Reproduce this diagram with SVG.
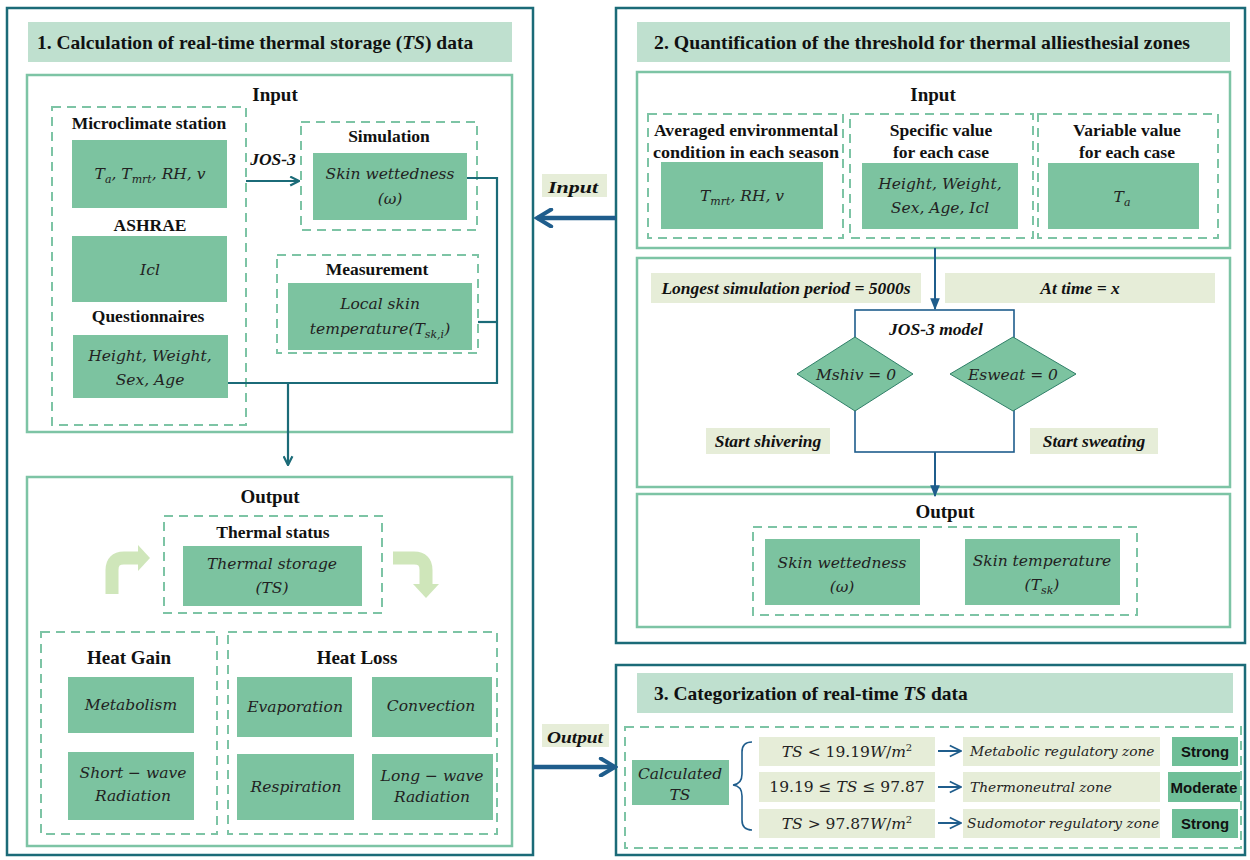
<svg xmlns="http://www.w3.org/2000/svg" width="1250" height="860" viewBox="0 0 1250 860">
<defs>
<style>
.panel{fill:#fff;stroke:#1b6b78;stroke-width:2.5}
.banner{fill:#bfe0cf}
.sec{fill:none;stroke:#7dc4a5;stroke-width:2.5}
.dash{fill:none;stroke:#7dc4a5;stroke-width:2;stroke-dasharray:9 6}
.node{fill:#7cc3a0}
.lbl{fill:#e6edd8}
.badge{fill:#6fbf98}
.title{font-family:"Liberation Serif",serif;font-weight:bold;font-size:19.5px;fill:#111}
.head{font-family:"Liberation Serif",serif;font-weight:bold;font-size:19px;fill:#111;text-anchor:middle}
.sub{font-family:"Liberation Serif",serif;font-weight:bold;font-size:17.5px;fill:#111;text-anchor:middle}
.bi{font-family:"Liberation Serif",serif;font-weight:bold;font-style:italic;font-size:17.5px;fill:#111;text-anchor:middle}
.it{font-family:"DejaVu Serif",serif;font-style:italic;font-size:15.5px;fill:#222;text-anchor:middle}
.itl{font-family:"DejaVu Serif",serif;font-style:italic;font-size:13.8px;fill:#222}
.math{font-family:"DejaVu Serif",serif;font-size:15.5px;fill:#222;text-anchor:middle}
.bd{font-family:"Liberation Sans",sans-serif;font-weight:bold;font-size:15px;fill:#111;text-anchor:middle}
.c1{fill:none;stroke:#1b6b78;stroke-width:2.2}
.c2{fill:none;stroke:#1f5d8c;stroke-width:2}
.big{fill:none;stroke:#1f5d8c;stroke-width:4.5}
.curv{fill:none;stroke:#cfe6ba;stroke-width:13}
</style>
<marker id="a1" viewBox="0 0 10 10" refX="9" refY="5" markerWidth="5" markerHeight="5" orient="auto"><path d="M1,1 L9,5 L1,9" fill="none" stroke="#1b6b78" stroke-width="2"/></marker>
<marker id="a2" viewBox="0 0 10 10" refX="9" refY="5" markerWidth="6" markerHeight="6" orient="auto"><path d="M0,1 L10,5 L0,9 Z" fill="#1f5d8c"/></marker>
<marker id="a3" viewBox="0 0 10 10" refX="9" refY="5" markerWidth="7" markerHeight="7" orient="auto"><path d="M1,1 L9,5 L1,9" fill="none" stroke="#1f5d8c" stroke-width="1.2"/></marker>
<marker id="a4" viewBox="0 0 10 10" refX="8.5" refY="5" markerWidth="4.5" markerHeight="4.5" orient="auto"><path d="M1.5,0.8 L8.5,5 L1.5,9.2" fill="none" stroke="#1f5d8c" stroke-width="2" stroke-linecap="round"/></marker>
</defs>
<rect width="1250" height="860" fill="#fff"/>

<!-- Panel 1 -->
<g id="panel1">
<rect class="panel" x="7" y="8" width="526" height="847"/>
<rect class="banner" x="28" y="22" width="484" height="40"/>
<text class="title" x="37" y="49">1. Calculation of real-time thermal storage (<tspan font-style="italic">TS</tspan>) data</text>
<rect class="sec" x="27" y="75" width="485" height="357"/>
<text class="head" x="275" y="101">Input</text>
<rect class="sec" x="27" y="477" width="485" height="369"/>
<text class="head" x="270" y="503">Output</text>
</g>

<g id="microclimate">
<rect class="dash" x="52" y="107" width="194" height="318"/>
<text class="sub" x="149" y="129">Microclimate station</text>
<rect class="node" x="72" y="140" width="155" height="68"/>
<text class="math" font-style="italic" x="150" y="179">T<tspan font-size="11" dy="4">a</tspan><tspan dy="-4">, T</tspan><tspan font-size="11" dy="4">mrt</tspan><tspan dy="-4">, RH, v</tspan></text>
<text class="sub" x="150" y="231">ASHRAE</text>
<rect class="node" x="72" y="236" width="155" height="66"/>
<text class="it" x="150" y="275">Icl</text>
<text class="sub" x="148" y="322">Questionnaires</text>
<rect class="node" x="73" y="335" width="155" height="63"/>
<text class="it" x="150" y="361">Height, Weight,</text>
<text class="it" x="150" y="385">Sex, Age</text>
</g>

<g id="simulation">
<rect class="dash" x="301" y="122" width="176" height="108"/>
<text class="sub" x="389" y="142">Simulation</text>
<rect class="node" x="313" y="153" width="154" height="67"/>
<text class="it" x="390" y="179">Skin wettedness</text>
<text class="it" x="390" y="204">(ω)</text>
</g>

<g id="measurement">
<rect class="dash" x="277" y="255" width="201" height="98"/>
<text class="sub" x="377" y="275">Measurement</text>
<rect class="node" x="288" y="283" width="184" height="67"/>
<text class="it" x="380" y="309">Local skin</text>
<text class="it" x="380" y="334">temperature(T<tspan font-size="11" dy="4">sk,i</tspan><tspan dy="-4">)</tspan></text>
</g>

<g id="thermal-status">
<rect class="dash" x="164" y="516" width="218" height="97"/>
<text class="sub" x="273" y="538" font-size="20.5">Thermal status</text>
<rect class="node" x="183" y="546" width="179" height="60"/>
<text class="it" x="272" y="569">Thermal storage</text>
<text class="it" x="272" y="593">(TS)</text>
</g>

<g id="heat-gain">
<rect class="dash" x="41" y="632" width="176" height="202"/>
<text class="head" x="129" y="664" font-size="18">Heat Gain</text>
<rect class="node" x="68" y="677" width="126" height="56"/>
<text class="it" x="131" y="710">Metabolism</text>
<rect class="node" x="68" y="752" width="126" height="68"/>
<text class="it" x="133" y="778">Short − wave</text>
<text class="it" x="133" y="801">Radiation</text>
</g>

<g id="heat-loss">
<rect class="dash" x="228" y="632" width="269" height="202"/>
<text class="head" x="357" y="664" font-size="18">Heat Loss</text>
<rect class="node" x="237" y="677" width="115" height="60"/>
<text class="it" x="295" y="712">Evaporation</text>
<rect class="node" x="372" y="677" width="120" height="60"/>
<text class="it" x="431" y="711">Convection</text>
<rect class="node" x="237" y="754" width="117" height="66"/>
<text class="it" x="296" y="792">Respiration</text>
<rect class="node" x="372" y="754" width="121" height="66"/>
<text class="it" x="432" y="781">Long − wave</text>
<text class="it" x="432" y="802">Radiation</text>
</g>

<!-- Panel 2 -->
<g id="panel2">
<rect class="panel" x="616" y="8" width="629" height="635"/>
<rect class="banner" x="637" y="22" width="593" height="40"/>
<text class="title" x="654" y="49" textLength="536" lengthAdjust="spacingAndGlyphs">2. Quantification of the threshold for thermal alliesthesial zones</text>
<rect class="sec" x="637" y="72" width="593" height="176"/>
<text class="head" x="933" y="101">Input</text>
<rect class="sec" x="637" y="258" width="593" height="229"/>
<rect class="sec" x="637" y="494" width="593" height="133"/>
<text class="head" x="945" y="518">Output</text>
</g>

<g id="averaged">
<rect class="dash" x="648" y="114" width="195" height="124"/>
<text class="sub" x="746" y="136" font-size="17" textLength="184" lengthAdjust="spacingAndGlyphs">Averaged environmental</text>
<text class="sub" x="746" y="158" font-size="17" textLength="186" lengthAdjust="spacingAndGlyphs">condition in each season</text>
<rect class="node" x="661" y="162" width="162" height="67"/>
<text class="math" font-style="italic" x="742" y="201">T<tspan font-size="11" dy="4">mrt</tspan><tspan dy="-4">, RH, v</tspan></text>
</g>
<g id="specific">
<rect class="dash" x="850" y="114" width="183" height="124"/>
<text class="sub" x="941" y="136" font-size="17">Specific value</text>
<text class="sub" x="941" y="158" font-size="17">for each case</text>
<rect class="node" x="862" y="163" width="156" height="66"/>
<text class="it" x="940" y="189">Height, Weight,</text>
<text class="it" x="940" y="213">Sex, Age, Icl</text>
</g>
<g id="variable">
<rect class="dash" x="1038" y="114" width="180" height="124"/>
<text class="sub" x="1127" y="136" font-size="17">Variable value</text>
<text class="sub" x="1127" y="158" font-size="17">for each case</text>
<rect class="node" x="1048" y="163" width="151" height="66"/>
<text class="math" font-style="italic" x="1122" y="202">T<tspan font-size="11" dy="4">a</tspan></text>
</g>

<g id="sim-labels">
<rect class="lbl" x="651" y="273" width="270" height="30"/>
<text class="bi" x="786" y="294">Longest simulation period = 5000s</text>
<rect class="lbl" x="945" y="273" width="270" height="30"/>
<text class="bi" x="1080" y="294">At time = x</text>
</g>

<g id="jos3-model">
<rect x="855" y="310" width="159" height="142" fill="none" stroke="#1f5d8c" stroke-width="1.6"/>
<text class="bi" x="936" y="335" font-size="18">JOS-3 model</text>
</g>
<g id="mshiv">
<polygon points="797,374 855,337 913,374 855,411" fill="#7cc3a0" stroke="#2f7f68" stroke-width="1"/>
<text class="it" x="856" y="380">Mshiv = 0</text>
</g>
<g id="esweat">
<polygon points="950,374 1013,337 1076,374 1013,411" fill="#7cc3a0" stroke="#2f7f68" stroke-width="1"/>
<text class="it" x="1013" y="380">Esweat = 0</text>
</g>
<g id="start-shivering">
<rect class="lbl" x="706" y="428" width="124" height="26"/>
<text class="bi" x="768" y="447">Start shivering</text>
</g>
<g id="start-sweating">
<rect class="lbl" x="1030" y="428" width="128" height="26"/>
<text class="bi" x="1094" y="447">Start sweating</text>
</g>

<g id="output2">
<rect class="dash" x="753" y="527" width="384" height="88"/>
<rect class="node" x="765" y="539" width="155" height="66"/>
<text class="it" x="842" y="568">Skin wettedness</text>
<text class="it" x="842" y="592">(ω)</text>
<rect class="node" x="965" y="539" width="155" height="66"/>
<text class="it" x="1042" y="566">Skin temperature</text>
<text class="it" x="1042" y="590">(T<tspan font-size="11" dy="4">sk</tspan><tspan dy="-4">)</tspan></text>
</g>

<!-- Panel 3 -->
<g id="panel3">
<rect class="panel" x="616" y="665" width="629" height="190"/>
<rect class="banner" x="637" y="673" width="596" height="40"/>
<text class="title" x="654" y="700">3. Categorization of real-time <tspan font-style="italic">TS</tspan> data</text>
<rect class="dash" x="625" y="727" width="616" height="121"/>
</g>
<g id="calculated-ts">
<rect class="node" x="632" y="760" width="97" height="45"/>
<text class="it" x="680" y="779">Calculated</text>
<text class="it" x="680" y="800">TS</text>
</g>
<g id="row1">
<rect class="lbl" x="759" y="737" width="176" height="29"/>
<text class="math" x="847" y="757"><tspan font-style="italic">TS</tspan> &lt; 19.19<tspan font-style="italic">W</tspan>/<tspan font-style="italic">m</tspan><tspan font-size="10" dy="-6">2</tspan></text>
<rect class="lbl" x="963" y="737" width="197" height="29"/>
<text class="itl" x="970" y="756">Metabolic regulatory zone</text>
<rect class="badge" x="1172" y="737" width="66" height="29"/>
<text class="bd" x="1205" y="757" textLength="48" lengthAdjust="spacingAndGlyphs">Strong</text>
</g>
<g id="row2">
<rect class="lbl" x="759" y="772" width="176" height="30"/>
<text class="math" x="847" y="792">19.19 ≤ <tspan font-style="italic">TS</tspan> ≤ 97.87</text>
<rect class="lbl" x="963" y="772" width="197" height="30"/>
<text class="itl" x="970" y="792">Thermoneutral zone</text>
<rect class="badge" x="1168" y="772" width="72" height="30"/>
<text class="bd" x="1204" y="793" textLength="67" lengthAdjust="spacingAndGlyphs">Moderate</text>
</g>
<g id="row3">
<rect class="lbl" x="759" y="809" width="176" height="29"/>
<text class="math" x="847" y="829"><tspan font-style="italic">TS</tspan> &gt; 97.87<tspan font-style="italic">W</tspan>/<tspan font-style="italic">m</tspan><tspan font-size="10" dy="-6">2</tspan></text>
<rect class="lbl" x="963" y="809" width="197" height="29"/>
<text class="itl" x="967" y="828">Sudomotor regulatory zone</text>
<rect class="badge" x="1172" y="809" width="66" height="29"/>
<text class="bd" x="1205" y="829" textLength="48" lengthAdjust="spacingAndGlyphs">Strong</text>
</g>

<!-- between-panel labels -->
<g id="input-label">
<rect class="lbl" x="542" y="174" width="65" height="23"/>
<text class="bi" x="573" y="193" font-size="22" textLength="50" lengthAdjust="spacingAndGlyphs">Input</text>
</g>
<g id="output-label">
<rect class="lbl" x="542" y="724" width="67" height="23"/>
<text class="bi" x="575" y="743" font-size="22" textLength="56" lengthAdjust="spacingAndGlyphs">Output</text>
</g>

<!-- connectors -->
<g id="connectors">
<path class="c1" d="M246,181 H299" marker-end="url(#a1)"/>
<text class="bi" x="273" y="165" font-size="16.5">JOS-3</text>
<path class="c1" d="M467,178 H497 V383 H228"/>
<path class="c1" d="M478,322 H497"/>
<path class="c1" d="M288,383 V465" marker-end="url(#a1)"/>
<path class="c2" d="M935,248 V309" marker-end="url(#a2)"/>
<path class="c2" d="M935,452 V496" marker-end="url(#a2)"/>
<path class="big" d="M616,218 H537" marker-end="url(#a4)"/>
<path class="big" d="M533,767 H615" marker-end="url(#a4)"/>
<path d="M752,742 Q742,742 742,752 V774 Q742,784 733,785 Q742,786 742,796 V820 Q742,830 752,830" fill="none" stroke="#1f5d8c" stroke-width="1.6"/>
<path class="c2" d="M938,751 H961" stroke-width="1.5" marker-end="url(#a3)"/>
<path class="c2" d="M938,787 H961" stroke-width="1.5" marker-end="url(#a3)"/>
<path class="c2" d="M938,823 H961" stroke-width="1.5" marker-end="url(#a3)"/>
<path class="curv" d="M112,594 V570 Q112,558 124,558 H139"/>
<polygon points="138,545 150,558 138,571" fill="#cfe6ba"/>
<path class="curv" d="M393,558 H414 Q426,558 426,570 V585"/>
<polygon points="413,584 439,584 426,598" fill="#cfe6ba"/>
</g>
</svg>
